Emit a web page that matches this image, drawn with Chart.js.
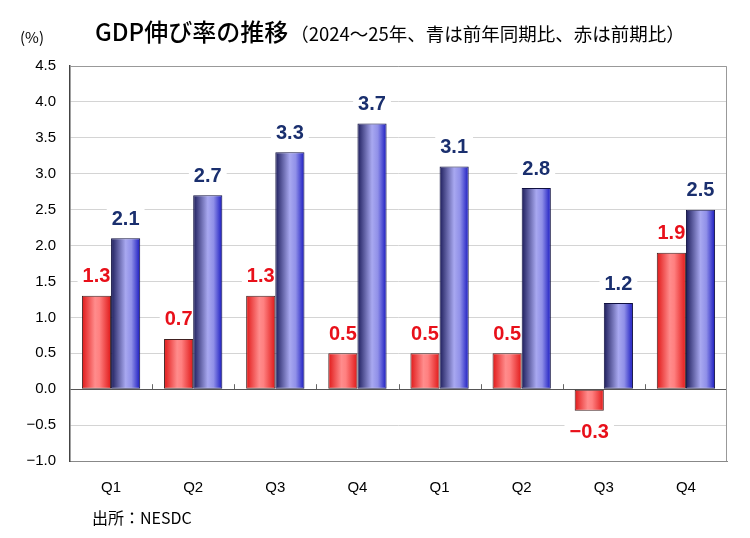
<!DOCTYPE html>
<html>
<head>
<meta charset="utf-8">
<script src="https://cdn.jsdelivr.net/npm/chart.js@4"></script>
<style>
  html, body { margin: 0; padding: 0; background: #fff; }
  #wrap { width: 750px; height: 538px; }
</style>
</head>
<body>
<div id="wrap"><canvas id="gdpChart" width="750" height="538"></canvas></div>
<script>
// 四半期ラベル（2024年Q1〜2025年Q4）
const quarters = ['Q1', 'Q2', 'Q3', 'Q4', 'Q1', 'Q2', 'Q3', 'Q4'];
// 前期比（赤）
const qoqValues = [1.3, 0.7, 1.3, 0.5, 0.5, 0.5, -0.3, 1.9];
// 前年同期比（青）
const yoyValues = [2.1, 2.7, 3.3, 3.7, 3.1, 2.8, 1.2, 2.5];
// 縦軸の範囲
const yMin = -1.0;
const yMax = 4.5;
const yStep = 0.5;

const jpFont = '"Noto Sans CJK JP", "Noto Sans", sans-serif';
const numFont = '"Liberation Sans", Arial, sans-serif';
const labelFont = 'bold 20px ' + numFont;

function fmt(v) {
    return v.toFixed(1).replace('-', '\u2212');
}

// 棒のグラデーション（左右方向）
function barGradient(ctx, x0, x1, stops) {
    const g = ctx.createLinearGradient(x0, 0, x1, 0);
    stops.forEach(s => g.addColorStop(s[0], s[1]));
    return g;
}
const redStops = [[0, '#e01818'], [0.45, '#ff8c8c'], [0.6, '#ff8080'], [1, '#e01818']];
const blueStops = [[0, '#1c1c5a'], [0.5, '#a8a8f0'], [0.7, '#9090e8'], [1, '#1818c0']];

// ラベル位置
function labelY(bar, v) {
    return v >= 0 ? bar.y - 19 : bar.y + 22;
}

const decorPlugin = {
    id: 'decor',
    beforeDatasetsDraw(chart) {
        const ctx = chart.ctx;
        ctx.save();
        ctx.font = labelFont;
        chart.data.datasets.forEach((ds, di) => {
            const meta = chart.getDatasetMeta(di);
            meta.data.forEach((bar, i) => {
                const x0 = bar.x - bar.width / 2;
                const x1 = bar.x + bar.width / 2;
                bar.options.backgroundColor = barGradient(ctx, x0, x1, di === 0 ? redStops : blueStops);
                // ラベルの白地（グリッド線を隠す、棒より下に描く）
                const v = ds.data[i];
                const w = ctx.measureText(fmt(v)).width;
                const y = labelY(bar, v);
                ctx.fillStyle = '#fff';
                ctx.fillRect(bar.x - w / 2 - 5, y - 11, w + 10, 22);
            });
        });
        // ゼロ線上の区切り目盛
        const xs = chart.scales.x, ys = chart.scales.y;
        const y0 = ys.getPixelForValue(0);
        ctx.strokeStyle = '#666';
        ctx.lineWidth = 1;
        for (let i = 1; i < quarters.length; i++) {
            const x = Math.round((xs.getPixelForValue(i - 1) + xs.getPixelForValue(i)) / 2) + 0.5;
            ctx.beginPath();
            ctx.moveTo(x, y0);
            ctx.lineTo(x, y0 - 5);
            ctx.stroke();
        }
        ctx.restore();
    },
    afterDatasetsDraw(chart) {
        const ctx = chart.ctx;
        ctx.save();
        ctx.font = labelFont;
        ctx.textAlign = 'center';
        ctx.textBaseline = 'middle';
        chart.data.datasets.forEach((ds, di) => {
            const meta = chart.getDatasetMeta(di);
            meta.data.forEach((bar, i) => {
                const v = ds.data[i];
                ctx.fillStyle = di === 0 ? '#e8101a' : '#1a2f6e';
                ctx.fillText(fmt(v), bar.x, labelY(bar, v));
            });
        });
        ctx.restore();
    },
    afterDraw(chart) {
        const ctx = chart.ctx;
        ctx.save();
        ctx.fillStyle = '#000';
        ctx.textBaseline = 'alphabetic';
        ctx.textAlign = 'left';
        ctx.font = '15px ' + jpFont;
        ctx.fillText('(%)', 20, 43);
        ctx.font = '500 24px ' + jpFont;
        ctx.fillText('GDP伸び率の推移', 95, 41);
        const w = ctx.measureText('GDP伸び率の推移').width;
        ctx.font = '18.5px ' + jpFont;
        ctx.fillText('（2024～25年、青は前年同期比、赤は前期比）', 95 + w + 2, 41);
        ctx.font = '16px ' + jpFont;
        ctx.fillText('出所：NESDC', 92, 524);
        ctx.restore();
    }
};

new Chart(document.getElementById('gdpChart'), {
    type: 'bar',
    data: {
        labels: quarters,
        datasets: [
            {
                label: '前期比',
                data: qoqValues,
                // 要素ごとにオプションを分けるため関数にする
                backgroundColor: () => '#f05050',
                borderColor: '#402020',
                borderWidth: 1,
                borderSkipped: false,
                categoryPercentage: 0.71,
                barPercentage: 1.0
            },
            {
                label: '前年同期比',
                data: yoyValues,
                backgroundColor: () => '#6060e0',
                borderColor: '#101040',
                borderWidth: 1,
                borderSkipped: false,
                categoryPercentage: 0.71,
                barPercentage: 1.0
            }
        ]
    },
    options: {
        responsive: false,
        animation: false,
        layout: { padding: { top: 66, right: 23, bottom: 0, left: 0 } },
        plugins: {
            legend: { display: false },
            tooltip: { enabled: false }
        },
        scales: {
            x: {
                grid: { display: false, drawTicks: false },
                border: { display: true, color: '#888' },
                ticks: {
                    color: '#000',
                    font: { size: 15, family: numFont },
                    padding: 18
                },
                afterFit(scale) { scale.height = 77; }
            },
            y: {
                min: yMin,
                max: yMax,
                grid: {
                    drawTicks: false,
                    color: ctx => ctx.tick && ctx.tick.value === 0 ? '#555' : '#d4d4d4',
                    lineWidth: 1
                },
                border: { display: true, color: '#444', width: 1.5 },
                ticks: {
                    stepSize: yStep,
                    color: '#000',
                    font: { size: 15, family: numFont },
                    padding: 14,
                    callback: v => fmt(v)
                },
                afterFit(scale) { scale.width = 70; }
            }
        }
    },
    plugins: [decorPlugin, {
        id: 'frame',
        afterDraw(chart) {
            const a = chart.chartArea, ctx = chart.ctx;
            ctx.save();
            ctx.strokeStyle = '#999';
            ctx.lineWidth = 1;
            ctx.beginPath();
            ctx.moveTo(a.left, a.top + 0.5);
            ctx.lineTo(a.right - 0.5, a.top + 0.5);
            ctx.lineTo(a.right - 0.5, a.bottom);
            ctx.stroke();
            ctx.restore();
        }
    }]
});
</script>
</body>
</html>
